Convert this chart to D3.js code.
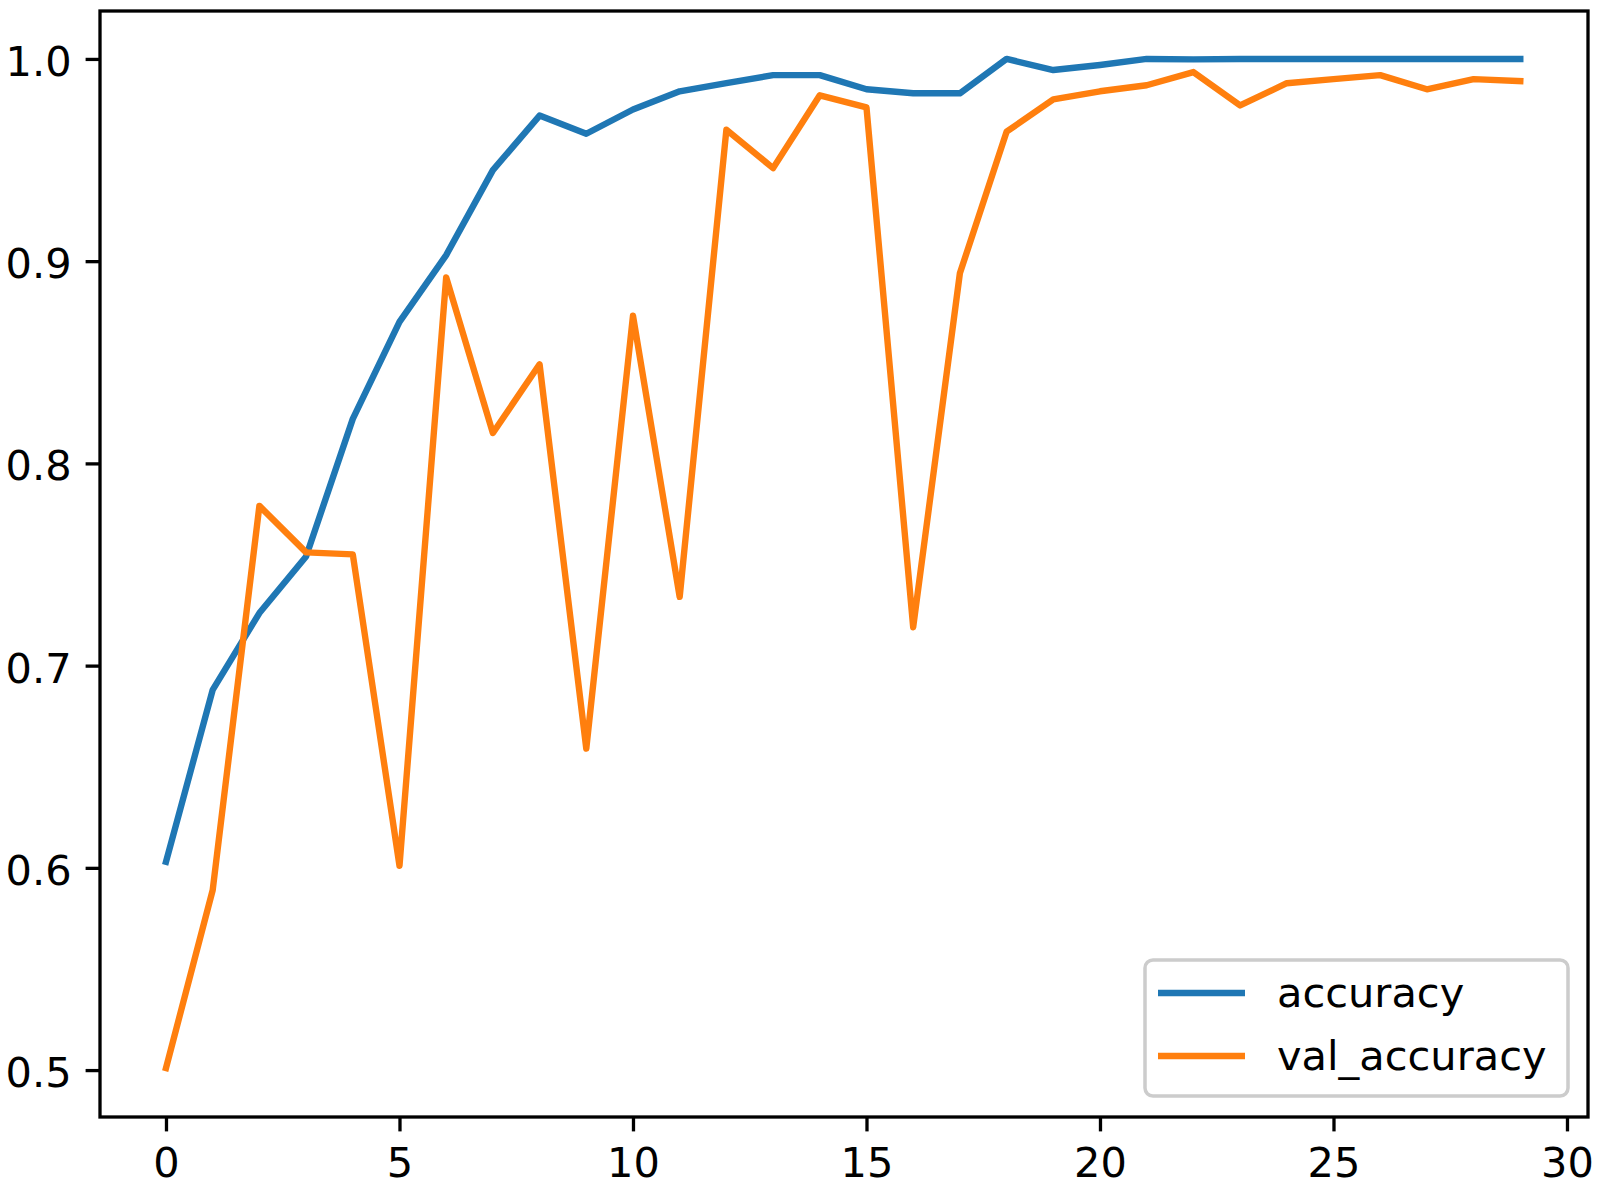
<!DOCTYPE html>
<html>
<head>
<meta charset="utf-8">
<script src="https://cdn.jsdelivr.net/npm/d3@7"></script>
<style>
  html, body { margin: 0; padding: 0; background: #fff; }
  svg { display: block; }
  text { font-family: "DejaVu Sans", sans-serif; fill: #000; }
</style>
</head>
<body>
<svg id="chart" width="1600" height="1186"></svg>
<script>
const epochs = d3.range(0, 30);
const accuracy = [0.603, 0.688, 0.726, 0.754, 0.822, 0.870, 0.903, 0.945, 0.972, 0.963,
                  0.975, 0.984, 0.988, 0.992, 0.992, 0.985, 0.983, 0.983, 1.000, 0.9945,
                  0.997, 1.000, 0.9998, 1.000, 1.000, 1.000, 1.000, 1.000, 1.000, 1.000];
const valAccuracy = [0.501, 0.589, 0.779, 0.756, 0.755, 0.601, 0.892, 0.815, 0.849, 0.659,
                     0.873, 0.734, 0.965, 0.946, 0.982, 0.976, 0.719, 0.894, 0.964, 0.980,
                     0.984, 0.987, 0.9935, 0.977, 0.988, 0.990, 0.992, 0.985, 0.990, 0.989];
const xTicks = [0, 5, 10, 15, 20, 25, 30];
const yTicks = [0.5, 0.6, 0.7, 0.8, 0.9, 1.0];
const seriesNames = ["accuracy", "val_accuracy"];
const seriesColors = ["#1f77b4", "#ff7f0e"];

const L = 100, R = 1588, T = 11, B = 1117;
const FS = 41.5;
const svg = d3.select("#chart");

const x = d3.scaleLinear().domain([-1.413, 30.45]).range([L, R]);
const y = d3.scaleLinear().domain([0.4768, 1.0237]).range([B, T]);

svg.append("defs").append("clipPath").attr("id", "clip")
  .append("rect").attr("x", L).attr("y", T).attr("width", R - L).attr("height", B - T);

const line = d3.line().x((d, i) => x(epochs[i])).y(d => y(d));
const plot = svg.append("g").attr("clip-path", "url(#clip)");
[accuracy, valAccuracy].forEach((s, k) => {
  plot.append("path").datum(s)
    .attr("d", line)
    .attr("fill", "none")
    .attr("stroke", seriesColors[k])
    .attr("stroke-width", 6.4)
    .attr("stroke-linejoin", "round")
    .attr("stroke-linecap", "square");
});

// axes
const xAxis = d3.axisBottom(x).tickValues(xTicks).tickFormat(d3.format("d"))
  .tickSize(14.4).tickPadding(16);
const yAxis = d3.axisLeft(y).tickValues(yTicks).tickFormat(d3.format(".1f"))
  .tickSize(14.4).tickPadding(14);

const gx = svg.append("g").attr("transform", `translate(0,${B})`).call(xAxis);
const gy = svg.append("g").attr("transform", `translate(${L},0)`).call(yAxis);
[gx, gy].forEach(g => {
  g.select(".domain").remove();
  g.selectAll(".tick line").attr("stroke", "#000").attr("stroke-width", 3.3);
  g.selectAll(".tick text").attr("font-size", FS).attr("font-family", "DejaVu Sans").attr("fill", "#000");
});
gx.selectAll(".tick text").attr("dy", "0.71em");
gy.selectAll(".tick text").attr("dy", "0.40em");

// spines
svg.append("rect").attr("x", L).attr("y", T).attr("width", R - L).attr("height", B - T)
  .attr("fill", "none").attr("stroke", "#000").attr("stroke-width", 3.3);

// legend
const lg = svg.append("g");
lg.append("rect").attr("x", 1145).attr("y", 960).attr("width", 423).attr("height", 136)
  .attr("rx", 8).attr("ry", 8)
  .attr("fill", "#fff").attr("fill-opacity", 0.8)
  .attr("stroke", "#cccccc").attr("stroke-width", 3.5);
seriesNames.forEach((n, k) => {
  const yy = 993 + k * 63;
  lg.append("line").attr("x1", 1158).attr("x2", 1245).attr("y1", yy).attr("y2", yy)
    .attr("stroke", seriesColors[k]).attr("stroke-width", 6.4);
  lg.append("text").attr("x", 1277).attr("y", yy + 14).attr("font-size", FS).text(n);
});
</script>
</body>
</html>
